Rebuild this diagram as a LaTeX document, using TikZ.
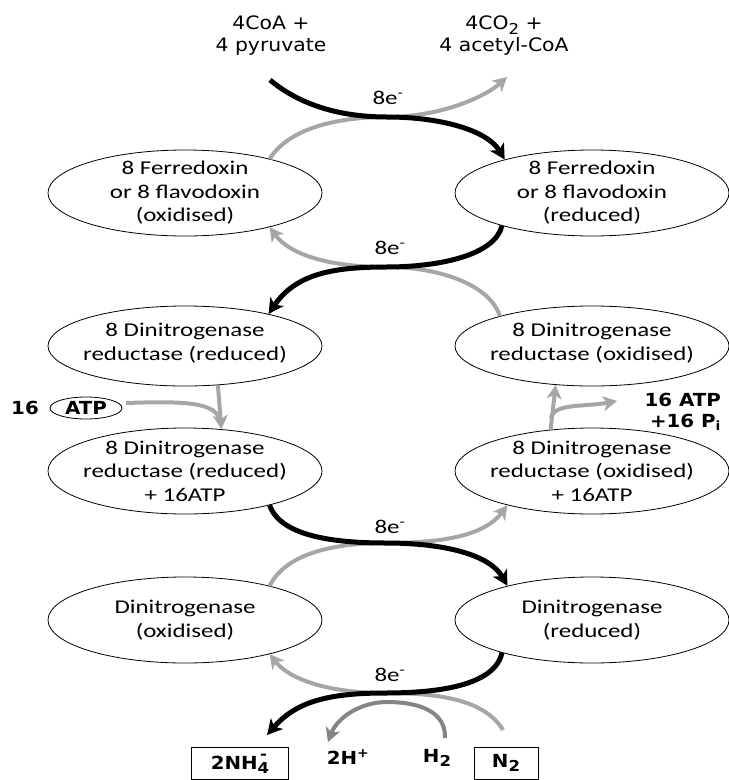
\documentclass[tikz,border=0pt]{standalone}
\usepackage{fontspec}
\usetikzlibrary{arrows.meta,shapes.geometric}
\newfontfamily\ellfont[FakeStretch=1.28]{Carlito}
\newfontfamily\labfont[FakeStretch=1.1]{DejaVu Sans}
\definecolor{lgray}{HTML}{A6A6A6}
\definecolor{mgray}{HTML}{858585}
\newcommand{\lowsub}[1]{\raisebox{-0.22em}{\fontsize{15}{15}\selectfont #1}}
\begin{document}
\begin{tikzpicture}[x=1pt,y=-1pt,
  ell/.style={ellipse,draw=black,line width=0.8pt,fill=white,minimum width=274pt,minimum height=86pt,inner sep=0pt},
  ellb/.style={ell,minimum height=80pt},
  etext/.style={font=\ellfont\fontsize{19.5}{23.5}\selectfont,align=center,inner sep=0pt},
  toplab/.style={font=\labfont\fontsize{18.5}{22}\selectfont,align=center,inner sep=0pt},
  blab/.style={font=\labfont\bfseries\fontsize{18}{21}\selectfont,align=center,inner sep=0pt},
  blk/.style={draw=black,line width=5pt,-{Stealth[length=15pt,width=16pt,inset=4pt]}},
  gry/.style={draw=lgray,line width=4pt,-{Stealth[length=14pt,width=15pt,inset=4pt]}},
  gryline/.style={draw=lgray,line width=4pt},
  mgry/.style={draw=mgray,line width=4pt,-{Stealth[length=14pt,width=15pt,inset=4pt]}},
  boxn/.style={draw=black,line width=0.8pt,minimum height=32pt,inner sep=0pt}
]
\useasboundingbox (0,0) rectangle (729,780);

% ellipses
\node[ell]  (L1) at (185,193) {};
\node[ell]  (R1) at (592,193) {};
\node[ellb] (L2) at (185,346) {};
\node[ellb] (R2) at (592,346) {};
\node[ell]  (L3) at (185,471) {};
\node[ell]  (R3) at (592,471) {};
\node[ell]  (L4) at (185,620) {};
\node[ell]  (R4) at (592,620) {};

\node[etext] (tL1) at (185,193) {8 Ferredoxin\\or 8 flavodoxin\\(oxidised)};
\node[etext] (tR1) at (592,193) {8 Ferredoxin\\or 8 flavodoxin\\(reduced)};
\node[etext] (tL2) at (185,343) {8 Dinitrogenase\\reductase (reduced)};
\node[etext] (tR2) at (592,343) {8 Dinitrogenase\\reductase (oxidised)};
\node[etext] (tL3) at (185,471) {8 Dinitrogenase\\reductase (reduced)\\+ 16ATP};
\node[etext] (tR3) at (592,471) {8 Dinitrogenase\\reductase (oxidised)\\+ 16ATP};
\node[etext] (tL4) at (185,620) {Dinitrogenase\\(oxidised)};
\node[etext] (tR4) at (592,620) {Dinitrogenase\\(reduced)};

% top labels
\node[toplab] (coa) at (271,36) {4CoA +\\4 pyruvate};
\node[toplab] (co2) at (504,36) {4CO\lowsub{2} +\\4 acetyl-CoA};

% 8e- labels
\node[etext] (e1) at (388,98) {8e\textsuperscript{-}};
\node[etext] (e2) at (390,248) {8e\textsuperscript{-}};
\node[etext] (e3) at (390,527) {8e\textsuperscript{-}};
\node[etext] (e4) at (390,675) {8e\textsuperscript{-}};

% ATP side labels
\node[blab] (n16) at (25,408) {16};
\node[blab,ellipse,draw=black,line width=0.8pt,minimum width=72pt,minimum height=22pt,inner sep=0pt] (atp) at (86,408) {ATP};
\node[blab,align=right,anchor=east] (atpout) at (721,412) {16 ATP\\+16 P\textsubscript{i}};

% bottom labels
\node[boxn,minimum width=97pt,blab] (nh4) at (240,763) {2NH{\ooalign{\raisebox{-0.22em}{\fontsize{15}{15}\selectfont 4}\cr\hidewidth\raisebox{0.55em}{\fontsize{15}{15}\selectfont -}\hidewidth\cr}}};
\node[blab] (hp) at (348,757) {2H\textsuperscript{+}};
\node[blab] (h2) at (437,758) {H\lowsub{2}};
\node[boxn,minimum width=64pt,blab] (n2) at (506,763) {N\lowsub{2}};

% free-end coordinates
\coordinate (pyr) at (270,80);
\coordinate (acet) at (507,77);
\coordinate (m1) at (387,117);
\coordinate (m2) at (386,267);
\coordinate (m3) at (386,543);
\coordinate (m4) at (385,693);
\coordinate (nh4in) at (267,735);
\coordinate (n2out) at (503,730);
\coordinate (h2out) at (445,738);
\coordinate (hpin) at (328,742);
\coordinate (hm) at (387,702);
\coordinate (atpout1) at (126,403);
\coordinate (atpjoin) at (220,422);
\coordinate (brk) at (551,418);
\coordinate (piin) at (617,401);

% crossing 1
\draw[gry] (L1.22.4) .. controls (290,127) and (340,117) .. (m1) .. controls (440,117) and (485,97) .. (acet);
\draw[blk] (pyr) .. controls (300,105) and (340,117) .. (m1) .. controls (440,117) and (487,130) .. (R1.159.1);
% crossing 2
\draw[gry] (R2.162.2) .. controls (490,285) and (440,267) .. (m2) .. controls (330,267) and (290,255) .. (L1.-22.8);
\draw[blk] (R1.200.6) .. controls (495,255) and (440,267) .. (m2) .. controls (330,267) and (295,275) .. (L2.21.3);
% ATP in
\draw[gryline] (atpout1) .. controls (185,401) and (218,402) .. (atpjoin);
\draw[gry] (L2.-50.6) -- (L3.49.1);
% ATP out
\draw[gry] (R3.135.8) -- (R2.-133.8);
\draw[gry] (brk) .. controls (554,403) and (585,407) .. (piin);
% crossing 3
\draw[gry] (L4.22.8) .. controls (285,555) and (330,543) .. (m3) .. controls (445,543) and (485,535) .. (R3.-158.4);
\draw[blk] (L3.-22.8) .. controls (280,535) and (330,543) .. (m3) .. controls (445,543) and (490,555) .. (R4.158.4);
% crossing 4
\draw[gry] (n2out) .. controls (485,700) and (440,693) .. (m4) .. controls (330,693) and (290,680) .. (L4.-22.4);
\draw[mgry] (h2out) .. controls (446,712) and (420,702) .. (hm) .. controls (360,702) and (337,718) .. (hpin);
\draw[blk] (R4.200.9) .. controls (495,685) and (440,693) .. (m4) .. controls (325,693) and (295,703) .. (nh4in);
\end{tikzpicture}
\end{document}
